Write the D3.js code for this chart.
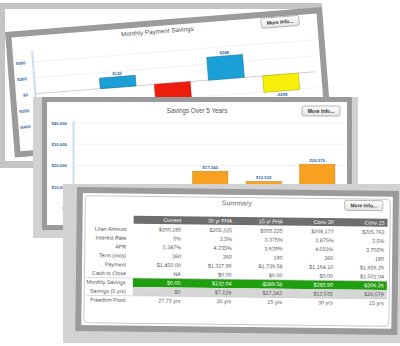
<!DOCTYPE html>
<html><head><meta charset="utf-8">
<script src="https://cdn.jsdelivr.net/npm/d3@7"></script>
<style>
body{margin:0;background:#fff}
svg{display:block}
text{font-family:"Liberation Sans",Arial,Helvetica,sans-serif}
</style>
</head><body>
<svg id="c" width="400" height="346"></svg>
<script>
// ---------------- data ----------------
const categories = ["Current", "30 yr FHA", "15 yr FHA", "Conv 30", "Conv 15"];
const monthlySavings = [0, 132.04, -289.58, 285.90, -206.26];
const fiveYearSavings = [0, 7128, 17343, 12532, 20579];
const monthlyTicks = [-400, -200, 0, 200, 400];
const fiveYearTicks = [0, 10000, 20000, 30000, 40000];
const rowLabels = ["Loan Amount", "Interest Rate", "APR", "Term (mos)", "Payment", "Cash to Close", "Monthly Savings", "Savings (5 yrs)", "Freedom Point"];
const loanAmount = ["$200,185", "$205,225", "$205,225", "$208,177", "$205,763"];
const interestRate = ["5%", "3.5%", "3.375%", "3.875%", "3.5%"];
const aprValues = ["5.387%", "4.235%", "3.639%", "4.033%", "3.702%"];
const termMonths = ["360", "360", "180", "360", "180"];
const payment = ["$1,450.00", "$1,317.96", "$1,739.58", "$1,164.10", "$1,656.26"];
const cashToClose = ["NA", "$0.00", "$0.00", "$0.00", "$1,502.04"];
const freedomPoint = ["27.73 yrs", "30 yrs", "15 yrs", "30 yrs", "15 yrs"];

// ---------------- styles ----------------
const monthlyColors = ["#1a9fd6", "#1a9fd6", "#ee1c0e", "#1a9fd6", "#f7ee0a"];
const orange = "#f8a020";
const frameColor = "#9b9b9b";
const glowColor = "#d2d2d2";
const axisBlue = "#a9cbe8";
const labelBlue = "#2f659e";

const fmtMoney0 = v => (v < 0 ? "-$" : "$") + d3.format(",")(Math.round(Math.abs(v)));
const fmtMoney2 = v => (v < 0 ? "-$" : "$") + d3.format(",.2f")(Math.abs(v));

const svg = d3.select("#c");
const defs = svg.append("defs");
const grad = defs.append("linearGradient").attr("id", "btn").attr("x1", 0).attr("y1", 0).attr("x2", 0).attr("y2", 1);
grad.append("stop").attr("offset", "0").attr("stop-color", "#ffffff");
grad.append("stop").attr("offset", "1").attr("stop-color", "#e4e4e4");

function card(g, w, h, b) {
  g.append("rect").attr("x", b / 2).attr("y", b / 2).attr("width", w - b).attr("height", h - b)
    .attr("fill", "#fff").attr("stroke", frameColor).attr("stroke-width", b);
}
function moreInfo(g, cx, cy) {
  const b = g.append("g").attr("transform", `translate(${cx},${cy})`);
  b.append("rect").attr("x", -19).attr("y", -5).attr("width", 38).attr("height", 10).attr("rx", 2)
    .attr("fill", "url(#btn)").attr("stroke", "#a5a5a5").attr("stroke-width", 0.8);
  b.append("text").attr("text-anchor", "middle").attr("y", 1.8).attr("font-size", 5)
    .attr("font-weight", "bold").attr("fill", "#333").text("More Info...");
}
function styleAxis(ax) {
  ax.select(".domain").attr("stroke", axisBlue).attr("stroke-width", 2).attr("stroke-dasharray", "1.2,0.8");
  ax.selectAll("text").attr("font-size", 4.3).attr("font-weight", "bold").attr("fill", labelBlue).attr("font-family", "Liberation Sans, Arial, sans-serif");
}

// ---------------- back plate ----------------
svg.append("rect").attr("x", 0).attr("y", 3).attr("width", 322).attr("height", 165).attr("fill", "#c4c4c4");
svg.append("rect").attr("x", 5).attr("y", 9).attr("width", 311).attr("height", 152).attr("fill", "#fff");

// ---------------- card 1 : Monthly Payment Savings ----------------
const g1 = svg.append("g").attr("transform", "translate(5,32) rotate(-4.5)");
card(g1, 318, 126, 6);
g1.append("text").attr("x", 152).attr("y", 13.5).attr("text-anchor", "middle")
  .attr("font-size", 6.3).attr("fill", "#555").text("Monthly Payment Savings");
moreInfo(g1, 275, 11.5);

const y1 = d3.scaleLinear().domain([-580, 540]).range([110.4, 20.8]);
const x1 = d3.scaleBand().domain(categories).range([27, 298.5]).paddingInner(0.34).paddingOuter(0.17);
g1.append("g").selectAll("line").data(monthlyTicks).join("line")
  .attr("x1", 25).attr("x2", 306).attr("y1", d => y1(d)).attr("y2", d => y1(d))
  .attr("stroke", d => d === 0 ? "#cfcfcf" : "#ececec").attr("stroke-width", d => d === 0 ? 1 : 0.7);
const ax1 = g1.append("g").attr("transform", "translate(25,0)")
  .call(d3.axisLeft(y1).tickValues(monthlyTicks).tickSize(0).tickSizeOuter(0).tickPadding(7).tickFormat(fmtMoney0));
styleAxis(ax1);
g1.append("g").selectAll("rect").data(categories).join("rect")
  .attr("x", d => x1(d)).attr("width", x1.bandwidth())
  .attr("y", (d, i) => Math.min(y1(monthlySavings[i]), y1(0)))
  .attr("height", (d, i) => Math.abs(y1(monthlySavings[i]) - y1(0)))
  .attr("fill", (d, i) => monthlyColors[i])
  .attr("stroke", (d, i) => d3.color(monthlyColors[i]).darker(0.8)).attr("stroke-width", 0.6);
g1.append("g").selectAll("text").data(categories.filter((d, i) => monthlySavings[i] !== 0)).join("text")
  .attr("x", d => x1(d) + x1.bandwidth() / 2)
  .attr("y", d => { const v = monthlySavings[categories.indexOf(d)]; return v > 0 ? y1(v) - 1.8 : y1(v) + 5; })
  .attr("text-anchor", "middle").attr("font-size", 4.3).attr("font-weight", "bold").attr("fill", labelBlue)
  .text(d => fmtMoney0(monthlySavings[categories.indexOf(d)]));

// ---------------- card 2 : Savings Over 5 Years ----------------
svg.append("rect").attr("x", 33).attr("y", 97).attr("width", 325).attr("height", 141).attr("fill", glowColor);
const g2 = svg.append("g").attr("transform", "translate(42,97)");
card(g2, 310, 133, 5);
g2.append("text").attr("x", 155).attr("y", 15.5).attr("text-anchor", "middle")
  .attr("font-size", 6.3).attr("fill", "#555").text("Savings Over 5 Years");
moreInfo(g2, 279, 14);
const y2 = d3.scaleLinear().domain([0, 41500]).range([111, 23]);
const x2 = d3.scaleBand().domain(categories).range([34.5, 302]).paddingInner(0.34).paddingOuter(0.17);
g2.append("g").selectAll("line").data(fiveYearTicks).join("line")
  .attr("x1", 31).attr("x2", 303).attr("y1", d => y2(d)).attr("y2", d => y2(d))
  .attr("stroke", "#ececec").attr("stroke-width", 0.7);
const ax2 = g2.append("g").attr("transform", "translate(31,0)")
  .call(d3.axisLeft(y2).tickValues(fiveYearTicks).tickSize(0).tickSizeOuter(0).tickPadding(6).tickFormat(fmtMoney0));
styleAxis(ax2);
g2.append("g").selectAll("rect").data(categories).join("rect")
  .attr("x", d => x2(d)).attr("width", x2.bandwidth())
  .attr("y", (d, i) => y2(fiveYearSavings[i]))
  .attr("height", (d, i) => y2(0) - y2(fiveYearSavings[i]))
  .attr("fill", orange).attr("stroke", d3.color(orange).darker(0.6)).attr("stroke-width", 0.5);
g2.append("g").selectAll("text").data(categories.filter((d, i) => fiveYearSavings[i] > 0)).join("text")
  .attr("x", d => x2(d) + x2.bandwidth() / 2)
  .attr("y", d => y2(fiveYearSavings[categories.indexOf(d)]) - 2)
  .attr("text-anchor", "middle").attr("font-size", 4.3).attr("font-weight", "bold").attr("fill", labelBlue)
  .text(d => fmtMoney0(fiveYearSavings[categories.indexOf(d)]));

// ---------------- card 3 : Summary ----------------
svg.append("rect").attr("x", 63).attr("y", 184).attr("width", 340).attr("height", 159).attr("fill", glowColor);
const g3 = svg.append("g").attr("transform", "translate(77,187) rotate(0.7)");
card(g3, 322, 144, 6);
g3.append("rect").attr("x", 8.5).attr("y", 8.5).attr("width", 305).attr("height", 127).attr("rx", 4)
  .attr("fill", "none").attr("stroke", "#c8c8c8").attr("stroke-width", 1);
g3.append("text").attr("x", 160).attr("y", 16.5).attr("text-anchor", "middle")
  .attr("font-size", 7).attr("fill", "#666").text("Summary");
moreInfo(g3, 287, 15);

const colX = d3.scaleBand().domain(categories).range([57, 311]);
const rowY = d3.scaleBand().domain(rowLabels).range([37, 117]);
const tableRows = [
  loanAmount, interestRate, aprValues, termMonths, payment, cashToClose,
  monthlySavings.map(fmtMoney2), fiveYearSavings.map(fmtMoney0), freedomPoint
];
// header
g3.append("rect").attr("x", 57).attr("y", 28).attr("width", 254).attr("height", 8).attr("fill", "#6e6e6e");
g3.append("g").selectAll("text").data(categories).join("text")
  .attr("x", d => colX(d) + colX.bandwidth() - 3).attr("y", 34)
  .attr("text-anchor", "end").attr("font-size", 5.4).attr("fill", "#fff").text(d => d);
// highlighted rows
g3.append("rect").attr("x", 57).attr("y", rowY("Monthly Savings")).attr("width", 254).attr("height", rowY.bandwidth())
  .attr("fill", "#1f9e0e");
g3.append("rect").attr("x", 57).attr("y", rowY("Savings (5 yrs)")).attr("width", 254).attr("height", rowY.bandwidth())
  .attr("fill", "#d6d6d6");
// separators
g3.append("g").selectAll("line").data(["Monthly Savings", "Freedom Point"]).join("line")
  .attr("x1", 10).attr("x2", 311).attr("y1", d => rowY(d)).attr("y2", d => rowY(d))
  .attr("stroke", "#c4c4c4").attr("stroke-width", 0.6);
// labels
g3.append("g").selectAll("text").data(rowLabels).join("text")
  .attr("x", 50).attr("y", d => rowY(d) + rowY.bandwidth() / 2 + 1.9)
  .attr("text-anchor", "end").attr("font-size", 5.4).attr("fill", "#555").text(d => d);
// cells
rowLabels.forEach((r, ri) => {
  g3.append("g").selectAll("text").data(categories).join("text")
    .attr("x", d => colX(d) + colX.bandwidth() - 3)
    .attr("y", rowY(r) + rowY.bandwidth() / 2 + 1.9)
    .attr("text-anchor", "end").attr("font-size", 5.4)
    .attr("fill", r === "Monthly Savings" ? "#fff" : "#555")
    .text((d, ci) => tableRows[ri][ci]);
});
</script>
</body></html>
